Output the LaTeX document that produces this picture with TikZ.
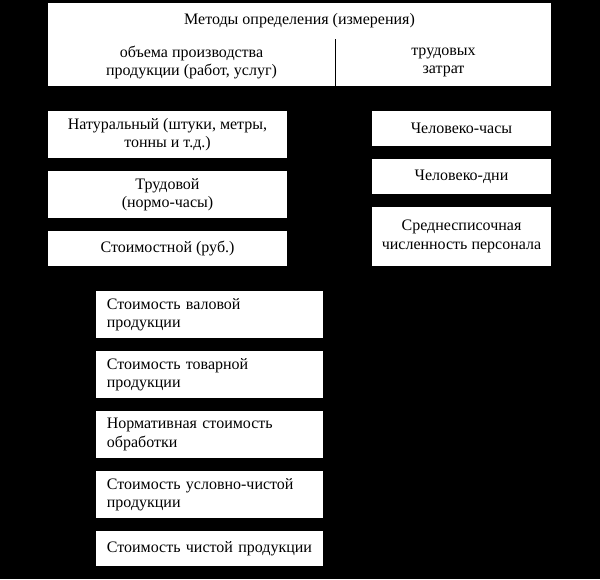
\documentclass[tikz,border=0pt]{standalone}
\usepackage{fontspec}
\setmainfont{Liberation Serif}
\newfontfamily\ruserif{Liberation Serif}
\begin{document}
\begin{tikzpicture}[x=1pt,y=-1pt,
  wbox/.style={fill=white, draw=none, inner sep=0pt, align=center,
    font=\ruserif\fontsize{16}{18.5}\selectfont, anchor=center},
  lbox/.style={fill=white, draw=none, inner xsep=10.7pt, inner ysep=0pt, align=left,
    text width=205.6pt, minimum height=#1, font=\ruserif\fontsize{16}{18.5}\selectfont, anchor=north west}]
\fill[black] (0,0) rectangle (600,579);
\useasboundingbox (0,0) rectangle (600,579);
% header
\node[wbox, minimum width=503pt, minimum height=35.5pt] (title) at (299.5,20.75) {Методы определения (измерения)};
\node[wbox, minimum width=287pt, minimum height=47pt] (vol) at (191.5,62.5) {объема производства\\продукции (работ, услуг)};
\node[wbox, minimum width=215pt, minimum height=47pt] (lab) at (443.5,62.5) {трудовых\\затрат};
% left column
\node[wbox, minimum width=239pt, minimum height=47pt] (nat) at (167.5,134.5) {Натуральный (штуки, метры,\\тонны и т.д.)};
\node[wbox, minimum width=239pt, minimum height=47pt] (trud) at (167.5,194.5) {Трудовой\\(нормо-часы)};
\node[wbox, minimum width=239pt, minimum height=35pt] (cost) at (167.5,248.5) {Стоимостной (руб.)};
% right column
\node[wbox, minimum width=179pt, minimum height=35pt] (mh) at (461.5,128.5) {Человеко-часы};
\node[wbox, minimum width=179pt, minimum height=35pt] (md) at (461.5,176.5) {Человеко-дни};
\node[wbox, minimum width=179pt, minimum height=59pt] (avg) at (461.5,236.5) {Среднесписочная\\численность персонала};
% bottom column
\node[lbox=47pt] (gross) at (96,291) {Стоимость валовой\\продукции};
\node[lbox=47pt] (comm) at (96,351) {Стоимость товарной\\продукции};
\node[lbox=47pt] (norm) at (96,411) {Нормативная стоимость\\обработки};
\node[lbox=47pt] (cond) at (96,471) {Стоимость условно-чистой\\продукции};
\node[lbox=35pt] (net) at (96,531) {Стоимость чистой продукции};
\end{tikzpicture}
\end{document}
